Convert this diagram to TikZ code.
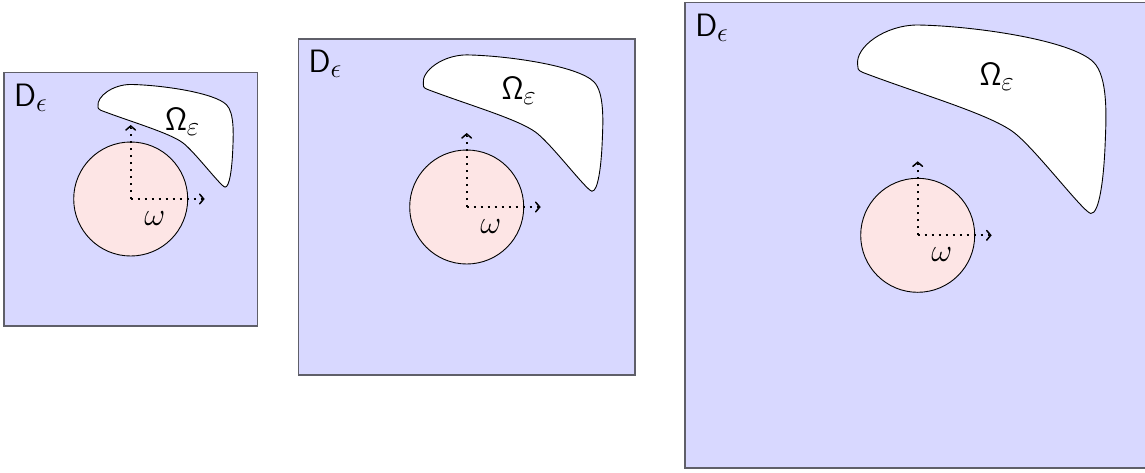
\documentclass[tikz,border=0pt]{standalone}
\usepackage{graphicx}
\usetikzlibrary{arrows.meta}
\definecolor{boxfill}{RGB}{216,216,255}
\definecolor{diskfill}{RGB}{253,229,229}
\definecolor{boxline}{RGB}{95,95,105}
\tikzset{
  domainbox/.style={draw=boxline, fill=boxfill, line width=1.6pt, minimum width=#1, minimum height=#1, inner sep=0pt, outer sep=0pt},
  disk/.style={circle, draw=black, fill=diskfill, line width=0.9pt, minimum size=114pt, inner sep=0pt},
  blobstyle/.style={draw=black, fill=white, line width=0.9pt},
  axisline/.style={line width=1.9pt, dash pattern=on 1.9pt off 5.1pt},
  axistip/.style={line width=1.5pt, -{Straight Barb[length=4pt,width=9.5pt,line cap=round]}},
  lbl/.style={font=\fontsize{24.88}{30}\selectfont, inner sep=0pt},
}
\newcommand\mypanel[6]{%
  \node[domainbox=#4pt] (box#1) at (#2,#3) {};
  \begin{scope}[shift={(#2,#3)}, x=#4pt, y=-#4pt]
    \path[blobstyle] (-0.129,-0.366) .. controls (-0.135,-0.405) and (-0.07,-0.452) .. (0.0,-0.452)
      .. controls (0.12,-0.45) and (0.33,-0.42) .. (0.378,-0.372)
      .. controls (0.41,-0.34) and (0.405,-0.25) .. (0.403,-0.20)
      .. controls (0.40,-0.12) and (0.39,-0.045) .. (0.372,-0.047)
      .. controls (0.355,-0.05) and (0.25,-0.19) .. (0.204,-0.223)
      .. controls (0.15,-0.262) and (0.0,-0.305) .. (-0.118,-0.35)
      .. controls (-0.13,-0.355) and (-0.129,-0.36) .. cycle;
  \end{scope}
  \node[disk] (w#1) at (#2,#3) {};
  \path (w#1.center) ++(0,-74) coordinate (up#1);
  \path (w#1.center) ++(0,-71) coordinate (upb#1);
  \path (w#1.center) ++(74,0) coordinate (rt#1);
  \path (w#1.center) ++(71,0) coordinate (rtb#1);
  \draw[axisline] (w#1.center) -- (upb#1);
  \draw[axistip] (upb#1) -- (up#1);
  \draw[axisline] (w#1.center) -- (rtb#1);
  \draw[axistip] (rtb#1) -- (rt#1);
  \node[lbl] (om#1) at ([xshift=24pt,yshift=-19.5pt]w#1.center) {\scalebox{1.3}{$\omega$}};
  \node[lbl] (oe#1) at (#5,#6) {\scalebox{1.3}{$\mathsf{\Omega}_\varepsilon$}};
  \node[lbl, anchor=base west] (d#1) at ([xshift=10pt,yshift=-34pt]box#1.north west) {\scalebox{1.3}{$\mathsf{D}_\epsilon$}};
}
\begin{document}
\begin{tikzpicture}[x=1pt, y=-1pt]
  \useasboundingbox (0,0) rectangle (1145,472);
  \clip (0,0) rectangle (1145,472);
  \mypanel{1}{130.7}{199}{253.4}{182.5}{121.7}
  \mypanel{2}{466.7}{207}{336.5}{519}{91}
  \mypanel{3}{917.7}{235.3}{465.3}{997}{77}
\end{tikzpicture}
\end{document}
